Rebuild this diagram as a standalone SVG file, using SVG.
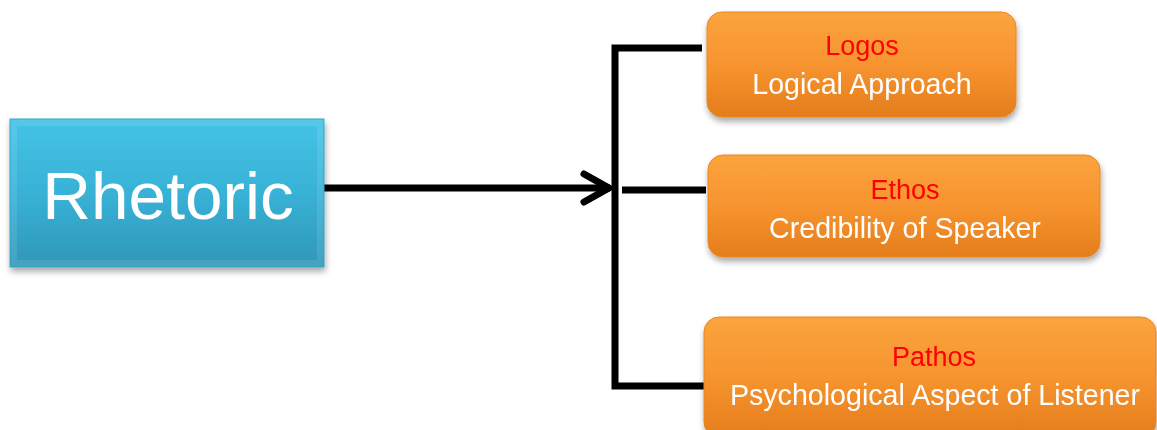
<svg xmlns="http://www.w3.org/2000/svg" width="1157" height="430" viewBox="0 0 1157 430">
  <defs>
    <linearGradient id="gBlue" x1="0" y1="0" x2="0" y2="1">
      <stop offset="0" stop-color="#45c3e6"/>
      <stop offset="0.5" stop-color="#38b2d6"/>
      <stop offset="1" stop-color="#2f97b8"/>
    </linearGradient>
    <linearGradient id="gOrange" x1="0" y1="0" x2="0" y2="1">
      <stop offset="0" stop-color="#fba43e"/>
      <stop offset="0.5" stop-color="#f7942f"/>
      <stop offset="1" stop-color="#e47d1c"/>
    </linearGradient>
    <filter id="shadow" x="-10%" y="-10%" width="120%" height="130%">
      <feGaussianBlur in="SourceAlpha" stdDeviation="3"/>
      <feOffset dx="1" dy="4" result="b"/>
      <feComponentTransfer><feFuncA type="linear" slope="0.35"/></feComponentTransfer>
      <feMerge><feMergeNode/><feMergeNode in="SourceGraphic"/></feMerge>
    </filter>
  </defs>
  <style>
    .blue { fill: url(#gBlue); stroke: #3aa9c9; stroke-width: 1; }
    .orange { fill: url(#gOrange); stroke: #e8871f; stroke-width: 1; }
    .title { font-family: "Liberation Sans", Arial, sans-serif; font-size: 27px; fill: #ff0000; text-anchor: middle; }
    .sub { font-family: "Liberation Sans", Arial, sans-serif; font-size: 28.6px; fill: #ffffff; text-anchor: middle; }
    .big { font-family: "Liberation Sans", Arial, sans-serif; font-size: 67.5px; fill: #ffffff; text-anchor: middle; }
    .conn { fill: none; stroke: #000000; stroke-width: 7; }
  </style>
  <rect width="1157" height="430" fill="#ffffff"/>

  <g id="connectors">
    <line class="conn" x1="313" y1="188" x2="610" y2="188"/>
    <polyline class="conn" points="584,174 609,188 584,202" stroke-linecap="round" stroke-linejoin="round"/>
    <polyline class="conn" points="702,48 615,48 615,386 706,386"/>
    <line class="conn" x1="622" y1="190" x2="706" y2="190"/>
  </g>

  <g id="rhetoric" filter="url(#shadow)">
    <rect class="blue" x="10" y="119" width="314" height="148"/>
    <rect x="14" y="123" width="306" height="140" fill="none" stroke="#ffffff" stroke-opacity="0.1" stroke-width="6"/>
    <text class="big" x="168" y="219">Rhetoric</text>
  </g>

  <g id="logos" filter="url(#shadow)">
    <rect class="orange" x="707" y="12" width="309" height="105" rx="15"/>
    <text class="title" x="862" y="55">Logos</text>
    <text class="sub" x="862" y="94">Logical Approach</text>
  </g>

  <g id="ethos" filter="url(#shadow)">
    <rect class="orange" x="708" y="155" width="392" height="102" rx="15"/>
    <text class="title" x="905" y="199">Ethos</text>
    <text class="sub" x="905" y="238">Credibility of Speaker</text>
  </g>

  <g id="pathos" filter="url(#shadow)">
    <rect class="orange" x="704" y="317" width="452" height="120" rx="15"/>
    <text class="title" x="934" y="366">Pathos</text>
    <text class="sub" x="935" y="405">Psychological Aspect of Listener</text>
  </g>
</svg>
